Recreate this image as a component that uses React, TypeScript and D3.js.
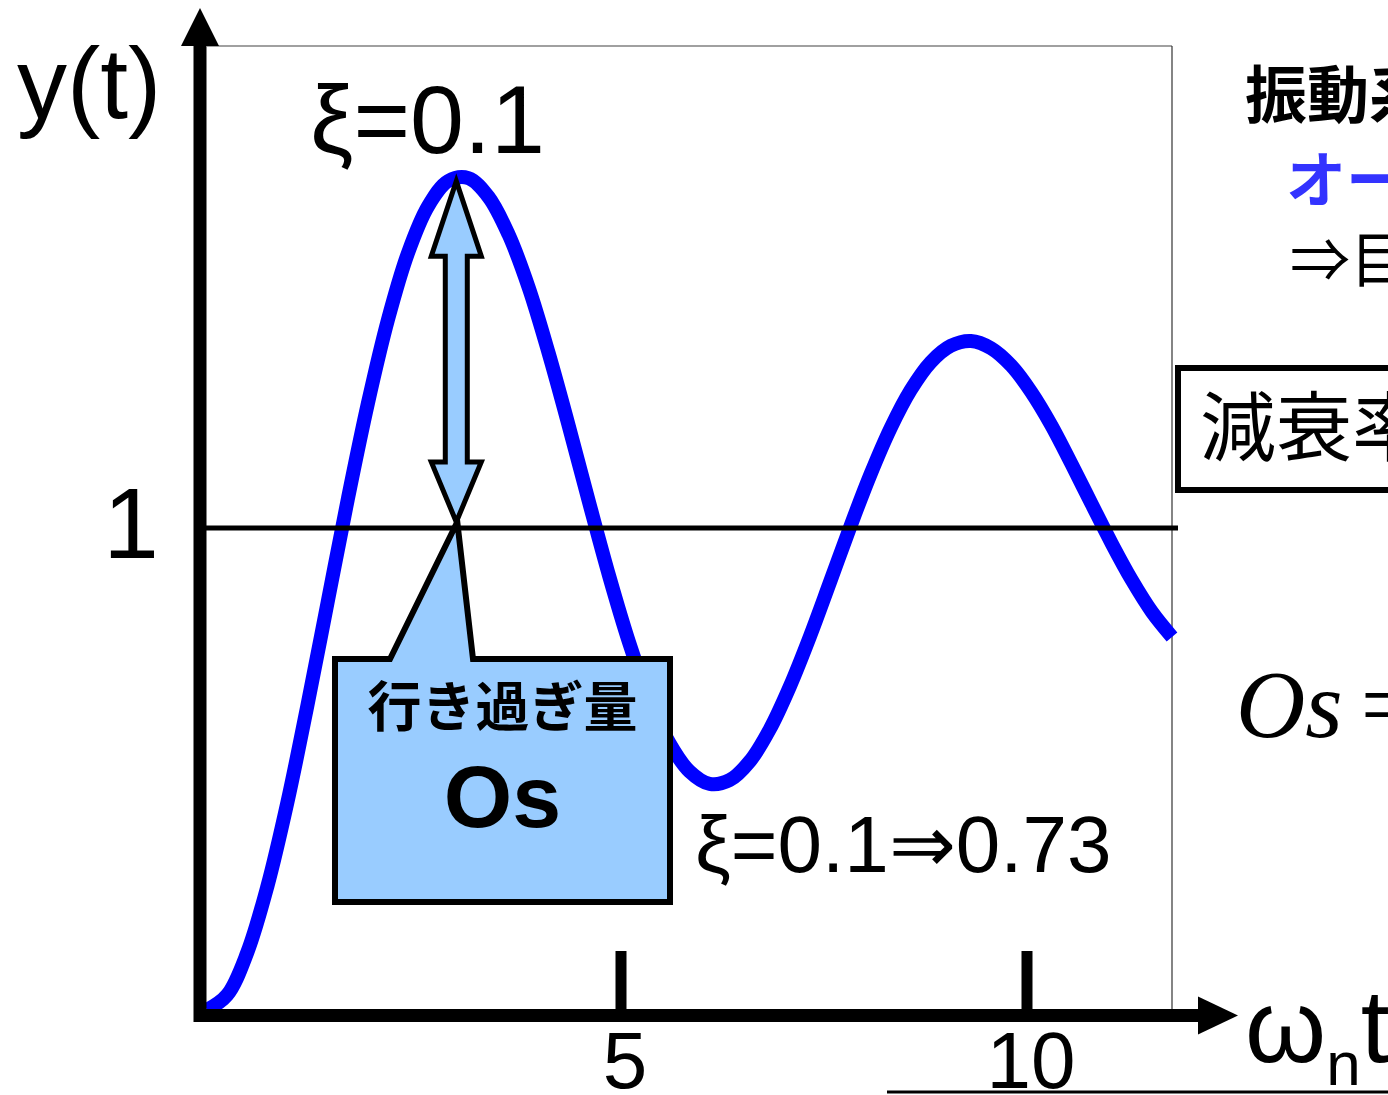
import React from "react";
import * as d3 from "d3";

// Step response of a second-order system (damping ratio 0.1), sampled every 0.25 of ωn·t
const timeSamples = [
  0, 0.25, 0.5, 0.75, 1, 1.25, 1.5, 1.75, 2, 2.25, 2.5, 2.75, 3, 3.25, 3.5, 3.75, 4, 4.25, 4.5, 4.75, 5,
  5.25, 5.5, 5.75, 6, 6.25, 6.5, 6.75, 7, 7.25, 7.5, 7.75, 8, 8.25, 8.5, 8.75, 9, 9.25, 9.5, 9.75, 10,
  10.25, 10.5, 10.75, 11, 11.25, 11.5, 11.75, 12,
];
const responseValues = [
  0, 0.031, 0.119, 0.256, 0.431, 0.633, 0.846, 1.059, 1.258, 1.432, 1.571, 1.668, 1.72, 1.726, 1.687, 1.609,
  1.499, 1.362, 1.211, 1.054, 0.901, 0.762, 0.645, 0.554, 0.495, 0.469, 0.477, 0.516, 0.583, 0.672, 0.776,
  0.889, 1.003, 1.111, 1.207, 1.286, 1.344, 1.378, 1.388, 1.373, 1.337, 1.282, 1.213, 1.133, 1.05, 0.968,
  0.892, 0.826, 0.774,
];

const xTickValues = [5, 10];
const xTickLabels = ["5", "10"];
const yTickValues = [1];
const yTickLabels = ["1"];

const dampingLabel = "ξ=0.1";
const overshootLabel = "ξ=0.1⇒0.73";
const overshootValue = 0.73;
const peakTime = 3.1;

const W = 1388;
const H = 1095;
const plot = { left: 207, right: 1172, top: 46, bottom: 1010 };

const SANS = "'Liberation Sans', Arial, sans-serif";
const CJK = "'Noto Sans CJK JP', 'Noto Sans CJK SC', sans-serif";
const SERIF = "'Liberation Serif', 'Times New Roman', serif";
const FILL = "#99CCFF";

export default function App() {
  const xScale = d3.scaleLinear().domain([0, 12]).range([plot.left, plot.right]);
  const yScale = d3.scaleLinear().domain([0, 2]).range([plot.bottom, plot.top]);
  // hand-drawn axis overlay with its own tick spacing
  const axisScale = d3.scaleLinear().domain([0, 10]).range([215, 1027]);

  const pts: [number, number][] = timeSamples.map((t, i) => [t, responseValues[i]]);
  const line = d3
    .line<[number, number]>()
    .x((d) => xScale(d[0]))
    .y((d) => yScale(d[1]))
    .curve(d3.curveCatmullRom.alpha(0.5));

  const oneY = yScale(1);
  const axisY = 1015.5;
  const axisX = 200;

  // double arrow from the steady-state line up to the first peak
  const ax = xScale(peakTime);
  const topTip = yScale(1 + overshootValue) + 5;
  const botTip = oneY - 6;
  const headW = 25;
  const shaftW = 11;
  const headL = 75;
  const arrowPts = [
    [ax, topTip],
    [ax + headW, topTip + headL],
    [ax + shaftW, topTip + headL],
    [ax + shaftW, botTip - 60],
    [ax + headW, botTip - 60],
    [ax, botTip],
    [ax - headW, botTip - 60],
    [ax - shaftW, botTip - 60],
    [ax - shaftW, topTip + headL],
    [ax - headW, topTip + headL],
  ];

  // callout box pointing at the crossing of the arrow and the steady-state line
  const box = { l: 335, r: 670, t: 659, b: 902 };
  const callout = [
    [box.l, box.t],
    [390, box.t],
    [ax + 1, oneY - 6],
    [473, box.t],
    [box.r, box.t],
    [box.r, box.b],
    [box.l, box.b],
  ];

  return (
    <svg
      width={W}
      height={H}
      viewBox={`0 0 ${W} ${H}`}
      style={{ position: "absolute", left: 0, top: 0, background: "#fff" }}
    >
      <rect x={0} y={0} width={W} height={H} fill="#fff" />

      {/* plot frame */}
      <line x1={plot.left} y1={plot.top} x2={plot.right} y2={plot.top} stroke="#808080" strokeWidth={1.5} />
      <line x1={plot.right} y1={plot.top} x2={plot.right} y2={plot.bottom} stroke="#333" strokeWidth={1.2} />

      {/* response curve */}
      <path d={line(pts) || ""} fill="none" stroke="#0000FF" strokeWidth={14} strokeLinecap="butt" />

      {/* steady-state level */}
      {yTickValues.map((v, i) => (
        <g key={`y${i}`}>
          <line x1={axisX} y1={yScale(v)} x2={1178} y2={yScale(v)} stroke="#000" strokeWidth={5} />
          <text x={131} y={yScale(v) + 30} fontFamily={SANS} fontSize={100} textAnchor="middle" fill="#000">
            {yTickLabels[i]}
          </text>
        </g>
      ))}

      {/* overshoot arrow */}
      <polygon points={arrowPts.map((p) => p.join(",")).join(" ")} fill={FILL} stroke="#000" strokeWidth={5} strokeLinejoin="miter" />

      {/* callout */}
      <polygon points={callout.map((p) => p.join(",")).join(" ")} fill={FILL} stroke="#000" strokeWidth={6} strokeLinejoin="miter" />
      <text x={(box.l + box.r) / 2} y={727} fontFamily={CJK} fontWeight={700} fontSize={54} textAnchor="middle" fill="#000">
        行き過ぎ量
      </text>
      <text x={(box.l + box.r) / 2} y={827} fontFamily={SANS} fontWeight={700} fontSize={88} textAnchor="middle" fill="#000">
        Os
      </text>

      {/* axes */}
      <line x1={axisX} y1={axisY} x2={1200} y2={axisY} stroke="#000" strokeWidth={13} />
      <polygon points={`1198,${axisY - 19} 1238,${axisY} 1198,${axisY + 19}`} fill="#000" />
      <line x1={axisX} y1={1022} x2={axisX} y2={44} stroke="#000" strokeWidth={13} />
      <polygon points={`181,46 ${axisX},8 219,46`} fill="#000" />

      {xTickValues.map((v, i) => (
        <g key={`x${i}`}>
          <line x1={axisScale(v)} y1={951} x2={axisScale(v)} y2={axisY} stroke="#000" strokeWidth={11} />
          <text x={axisScale(v) + 4} y={1088} fontFamily={SANS} fontSize={80} textAnchor="middle" fill="#000">
            {xTickLabels[i]}
          </text>
        </g>
      ))}

      {/* axis titles */}
      <text x={17} y={118} fontFamily={SANS} fontSize={100} fill="#000">
        y(t)
      </text>
      <text x={1245} y={1062} fontFamily={SANS} fontSize={104} fill="#000">
        ω
        <tspan dy={23} fontSize={62}>n</tspan>
        <tspan dy={-23}>t</tspan>
      </text>

      {/* annotations */}
      <text x={310} y={153} fontFamily={SANS} fontSize={97} fill="#000">
        {dampingLabel}
      </text>
      <text x={695} y={872} fontFamily={SANS} fontSize={80} fill="#000">
        {overshootLabel}
      </text>

      {/* side notes */}
      <text x={1245} y={118} fontFamily={CJK} fontWeight={700} fontSize={62} fill="#000">
        振動系の特性
      </text>
      <text x={1286} y={202} fontFamily={CJK} fontWeight={700} fontSize={60} fill="#3333FF">
        オーバーシュート大
      </text>
      <text x={1290} y={282} fontFamily={CJK} fontSize={60} fill="#000">
        ⇒目標値を超える
      </text>
      <rect x={1178} y={368} width={260} height={122} fill="none" stroke="#000" strokeWidth={6} />
      <text x={1200} y={455} fontFamily={CJK} fontSize={76} fill="#000">
        減衰率
      </text>
      <text x={1236} y={737} fontFamily={SERIF} fontStyle="italic" fontSize={96} fill="#000">
        Os
        <tspan fontStyle="normal" dx={18}>=</tspan>
      </text>
      <line x1={887} y1={1092} x2={W} y2={1092} stroke="#000" strokeWidth={3} />
    </svg>
  );
}
